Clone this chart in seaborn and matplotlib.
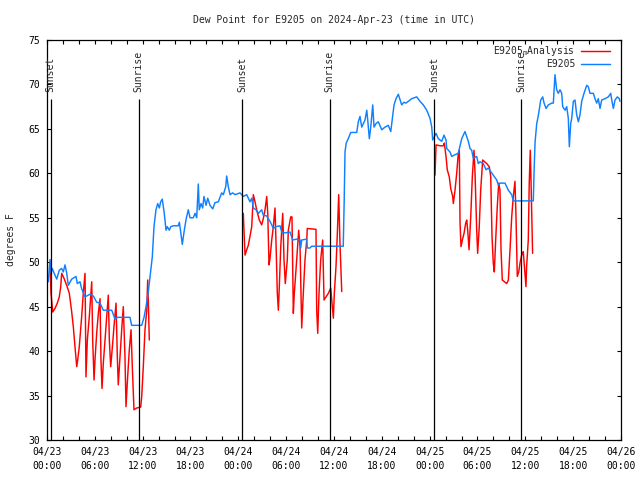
import pandas as pd
import matplotlib
matplotlib.use("Agg")
import matplotlib.pyplot as plt
import matplotlib.dates as mdates
import seaborn as sns

START = pd.Timestamp("2024-04-23 00:00")
STATION = "E9205"
ANALYSIS = "E9205$_{\\mathregular{m}}$Analysis"

# hours after START, dew point in F
obs_hours = [0.16, 0.38, 0.50, 0.66, 0.88, 1.22, 1.54, 1.84, 2.04, 2.26, 2.47, 2.67, 3.10, 3.64, 3.80,
             4.14, 4.35, 4.77, 5.39, 5.81, 6.23, 6.65, 7.06, 8.12, 8.53, 8.82, 10.41, 10.62, 11.88, 12.17,
             12.42, 12.71, 13.01, 13.21, 13.42, 13.67, 13.89, 14.09, 14.26, 14.46, 14.71, 14.93, 15.09,
             15.34, 15.52, 15.84, 16.47, 16.60, 16.77, 16.97, 17.19, 17.44, 17.72, 17.94, 18.35, 18.57,
             18.78, 18.98, 19.10, 19.32, 19.53, 19.69, 19.95, 20.16, 20.45, 20.79, 21.07, 21.49, 21.91,
             22.12, 22.42, 22.54, 22.74, 22.96, 23.29, 23.58, 24.21, 24.62, 25.05, 25.46, 25.68, 25.88,
             26.22, 26.51, 26.93, 27.13, 27.56, 27.97, 28.39, 28.73, 29.23, 29.44, 29.85, 30.48, 30.82,
             31.32, 31.74, 31.82, 31.95, 32.58, 32.65, 32.99, 33.20, 37.16, 37.28, 37.38, 37.53, 37.79,
             38.10, 38.85, 39.05, 39.26, 39.48, 39.89, 40.11, 40.23, 40.43, 40.61, 40.86, 41.02, 41.27,
             41.56, 41.99, 42.40, 42.81, 43.12, 43.36, 43.53, 43.78, 44.07, 44.28, 44.49, 44.78, 45.03,
             45.32, 45.75, 46.37, 46.79, 47.20, 47.63, 48.04, 48.26, 48.38, 48.58, 48.80, 49.08, 49.51,
             49.80, 50.05, 50.14, 50.55, 50.76, 51.18, 51.59, 52.02, 52.43, 52.85, 53.06, 53.27, 53.47,
             53.90, 54.10, 54.32, 54.73, 55.07, 55.36, 55.66, 55.98, 56.41, 56.61, 56.82, 57.45, 57.87,
             58.29, 58.49, 61.00, 61.09, 61.22, 61.43, 61.63, 61.93, 62.18, 62.35, 62.60, 62.89, 63.31,
             63.51, 63.72, 63.93, 64.13, 64.35, 64.56, 64.69, 64.98, 65.19, 65.39, 65.52, 65.69, 65.82,
             66.02, 66.23, 66.44, 66.65, 66.86, 67.07, 67.36, 67.70, 67.90, 68.11, 68.53, 68.74, 68.95,
             69.15, 69.37, 69.58, 69.99, 70.41, 70.71, 70.84, 71.04, 71.25, 71.54, 71.79, 71.87]
obs_dewpt = [47.8, 50.3, 48.8, 49.3, 48.8, 48.1, 49.1, 49.3, 48.9, 49.7, 48.8, 47.4, 48.1, 48.4, 47.6,
             47.8, 47.0, 46.1, 46.4, 46.2, 45.5, 45.4, 44.6, 44.6, 43.6, 43.8, 43.8, 42.9, 42.9, 43.8,
             45.0, 46.7, 49.1, 50.6, 54.0, 55.9, 56.6, 56.1, 56.8, 57.1, 55.5, 53.6, 54.0,
             53.6, 54.0, 54.1, 54.1, 54.5, 53.4, 52.0, 53.4, 54.8, 55.9, 55.0, 55.0, 55.5,
             55.0, 58.8, 55.9, 56.6, 56.1, 57.4, 56.4, 57.2, 56.4, 56.0, 56.7, 56.8, 57.8,
             57.6, 58.5, 59.7, 58.5, 57.6, 57.8, 57.6, 57.8, 57.4, 57.6, 56.8, 57.2, 56.1,
             55.9, 55.5, 55.9, 55.3, 55.2, 54.6, 53.8, 54.0, 54.1, 53.4, 53.3, 53.4, 52.5,
             52.6, 52.5, 51.6, 52.5, 52.6, 51.6, 51.6, 51.8, 51.8, 57.0, 62.4, 63.4, 63.9,
             64.6, 64.6, 65.8, 66.4, 65.2, 66.0, 67.1, 66.0, 63.9, 65.2, 67.7, 65.2, 65.6,
             65.8, 64.9, 65.2, 65.4, 64.7, 66.4, 67.7, 68.4, 68.9, 68.3, 67.7, 68.0, 67.9,
             68.1, 68.4, 68.6, 68.1, 67.7, 67.1, 66.2, 65.2, 63.75, 64.1, 64.5, 63.9, 63.6,
             64.3, 63.75, 62.8, 62.4, 61.9, 62.1, 62.25, 63.9, 64.7, 63.6, 62.8, 62.6, 61.7,
             61.9, 61.1, 61.3, 61.1, 60.4, 60.6, 60.2, 59.8, 59.25, 58.7, 58.9, 58.9, 58.1,
             57.6, 56.9, 56.9, 60.0, 63.5, 65.6, 66.5, 68.25, 68.6, 67.9, 67.3, 67.7, 67.9,
             67.9, 71.1, 69.4, 69.0, 69.4, 69.0, 67.5, 67.1, 67.5, 66.2, 63.0, 65.6, 66.2,
             68.1, 68.25, 66.6, 65.8, 66.6, 68.1, 69.0, 69.9, 69.75, 69.0, 69.0, 68.4, 67.9,
             68.4, 67.3, 68.25, 68.4, 68.6, 69.0, 68.25, 67.3, 68.25, 68.6, 68.4, 68.1]

ana_hours = [0.38, 0.50, 0.72, 1.00, 1.29, 1.54, 1.72, 1.84, 2.13, 2.47, 2.80, 3.10, 3.30, 3.51, 3.73,
             3.85, 4.05, 4.35, 4.55, 4.77, 4.89, 5.06, 5.31, 5.61, 5.73, 5.90, 6.02, 6.23, 6.44, 6.65,
             6.77, 6.90, 7.06, 7.28, 7.49, 7.69, 7.82, 7.99, 8.24, 8.40, 8.66, 8.82, 8.94, 9.16, 9.37,
             9.57, 9.78, 9.91, 10.07, 10.32, 10.54, 10.70, 10.91, 11.25, 11.75, 11.88, 12.08, 12.29,
             12.51, 12.63, 12.76, 12.83,
             24.62, 24.84, 25.05, 25.25, 25.46, 25.68, 25.88, 26.09, 26.30, 26.63, 26.93, 27.13, 27.35,
             27.56, 27.69, 27.85, 27.97, 28.19, 28.39, 28.60, 28.73, 28.89, 29.02, 29.14, 29.32, 29.57,
             29.73, 29.89, 30.14, 30.27, 30.57, 30.73, 30.90, 31.02, 31.32, 31.57, 31.74, 31.86, 31.95,
             32.15, 32.36, 32.58, 32.65, 33.20, 33.74, 33.83, 33.96, 34.12, 34.33, 34.58, 34.75, 35.00,
             35.29, 35.59, 35.79, 35.92, 36.04, 36.25, 36.42, 36.59, 36.75, 36.97,
             48.67, 48.80, 49.30, 49.71, 49.84, 50.05, 50.21, 50.46, 50.64, 50.89, 50.97, 51.18, 51.39,
             51.59, 51.72, 51.81, 51.93, 52.10, 52.31, 52.52, 52.65, 52.77, 52.94, 53.15, 53.35, 53.56,
             53.69, 53.90, 54.02, 54.22, 54.40, 54.65, 55.15, 55.48, 55.66, 55.82, 55.98, 56.11, 56.28,
             56.48, 56.66, 56.82, 56.95, 57.11, 57.67, 57.87, 58.08, 58.29, 58.49, 58.70, 58.83, 58.99,
             59.17, 59.33, 59.54, 59.74, 59.95, 60.08, 60.16, 60.37, 60.49, 60.62, 60.74, 60.91]
ana_dewpt = [49.5, 46.5, 44.4, 44.8, 45.4, 46.1, 47.25, 48.75, 48.2, 47.4, 46.5, 44.4, 42.75, 40.5, 38.25,
             39.0, 40.5, 43.9, 46.5, 48.75, 37.1, 41.25, 43.9, 47.8, 41.25, 36.75, 39.0, 42.0, 44.25, 45.9,
             39.0, 35.8, 38.6, 41.25, 43.9, 46.3, 41.25, 38.25, 40.9, 42.75, 45.4, 39.4, 36.2, 39.4, 42.4,
             45.0, 39.4, 33.75, 36.4, 40.1, 42.4, 38.25, 33.4, 33.6, 33.7, 34.9, 38.25, 42.4,
             44.6, 48.0, 43.9, 41.25,
             55.5, 50.8, 51.4, 51.9, 52.9, 54.0, 57.6, 56.8, 55.9, 54.75, 54.2, 54.9, 55.9,
             57.4, 55.5, 49.7, 50.4, 52.5, 54.0, 56.1, 52.1, 46.5, 44.6, 47.25, 51.75, 55.5,
             50.25, 47.6, 50.25, 53.6, 55.1, 55.1, 44.25, 46.5, 50.25, 53.6, 51.75, 46.5, 42.6,
             46.5, 50.25, 52.5, 53.8, 53.75, 53.7, 44.6, 42.0, 46.5, 50.25, 52.5, 45.75, 46.1,
             46.5, 47.1, 45.0, 43.7, 46.5, 49.5, 53.25, 57.6, 52.1, 46.7,
             59.8, 63.2, 63.1, 63.1, 63.4, 61.9, 60.4, 59.6, 58.3, 57.4, 56.6, 58.1, 60.0,
             62.25, 62.6, 54.4, 51.75, 52.5, 53.25, 54.4, 54.75, 53.6, 51.4, 55.1, 59.6, 62.6,
             60.0, 53.6, 51.0, 54.0, 58.1, 61.5, 61.1, 60.75, 59.6, 52.9, 49.9, 48.9, 52.5,
             56.25, 58.9, 58.1, 51.4, 48.0, 47.6, 48.0, 51.4, 55.1, 57.4, 59.1, 55.1, 48.4,
             48.9, 49.9, 50.8, 51.2, 48.75, 47.25, 49.5, 52.5, 58.9, 62.6, 58.1, 51.0]

sun_hours = [0.46, 11.50, 24.46, 35.44, 48.55, 59.46]
sun_labels = ["Sunset", "Sunrise", "Sunset", "Sunrise", "Sunset", "Sunrise"]


def make_frame():
    obs = pd.DataFrame({"time": START + pd.to_timedelta(obs_hours, unit="h"),
                        "dewpt": obs_dewpt, "series": STATION})
    ana = pd.DataFrame({"time": START + pd.to_timedelta(ana_hours, unit="h"),
                        "dewpt": ana_dewpt, "series": ANALYSIS})
    # analysis rows go in as separate day chunks so the gaps stay open
    ana["chunk"] = (pd.Series(ana_hours).diff() > 3).cumsum()
    obs["chunk"] = 0
    return pd.concat([ana, obs], ignore_index=True)


def draw():
    sns.set_style("ticks")
    plt.rcParams["font.family"] = ["DejaVu Sans Mono"]
    plt.rcParams["mathtext.fontset"] = "custom"
    plt.rcParams["mathtext.rm"] = "DejaVu Sans Mono"
    plt.rcParams["font.size"] = 7

    df = make_frame()
    fig = plt.figure(figsize=(6.4, 4.8), dpi=100)
    ax = fig.add_axes([47 / 640, 40 / 480, 574 / 640, 400 / 480])

    sns.lineplot(data=df, x="time", y="dewpt", hue="series", units="chunk",
                 hue_order=[ANALYSIS, STATION],
                 palette={ANALYSIS: "#ff0000", STATION: "#1080ff"},
                 estimator=None, sort=False, linewidth=1.05, ax=ax)

    sun_times = START + pd.to_timedelta(sun_hours, unit="h")
    ax.vlines(sun_times, 30, 68.4, color="black", linewidth=0.9, zorder=3)
    for t, lab in zip(sun_times, sun_labels):
        ax.text(t, 69.2, lab, rotation=90, ha="center", va="bottom", fontsize=7)

    ax.set_xlim(START, START + pd.Timedelta(hours=72))
    ax.set_ylim(30, 75)
    ax.set_yticks(range(30, 80, 5))
    ax.xaxis.set_major_locator(mdates.HourLocator(byhour=[0, 6, 12, 18]))
    ax.xaxis.set_minor_locator(mdates.HourLocator(interval=2))
    ax.xaxis.set_major_formatter(mdates.DateFormatter("%m/%d\n%H:%M"))
    ax.tick_params(which="both", direction="in", top=True, right=True, length=3, width=0.8,
                   labelsize=7, colors="black")
    ax.tick_params(axis="x", pad=5)
    ax.tick_params(axis="y", pad=5)
    for s in ax.spines.values():
        s.set_linewidth(0.9)
        s.set_color("black")

    ax.set_xlabel("")
    ax.set_ylabel("degrees F", fontsize=7, labelpad=9)
    ax.set_title("Dew Point for E9205 on 2024-Apr-23 (time in UTC)", fontsize=7, pad=12)

    handles, labels = ax.get_legend_handles_labels()
    ax.legend(handles, labels, loc="upper right", bbox_to_anchor=(0.981, 0.99),
              frameon=False, markerfirst=False, borderpad=0, borderaxespad=0,
              handlelength=3.0, handletextpad=0.6, labelspacing=0.1, fontsize=7)

    fig.canvas.draw()
    for lbl in ax.get_xticklabels():
        lbl.set_linespacing(1.45)

    fig.savefig("out.png", dpi=100)


if __name__ == "__main__":
    draw()
